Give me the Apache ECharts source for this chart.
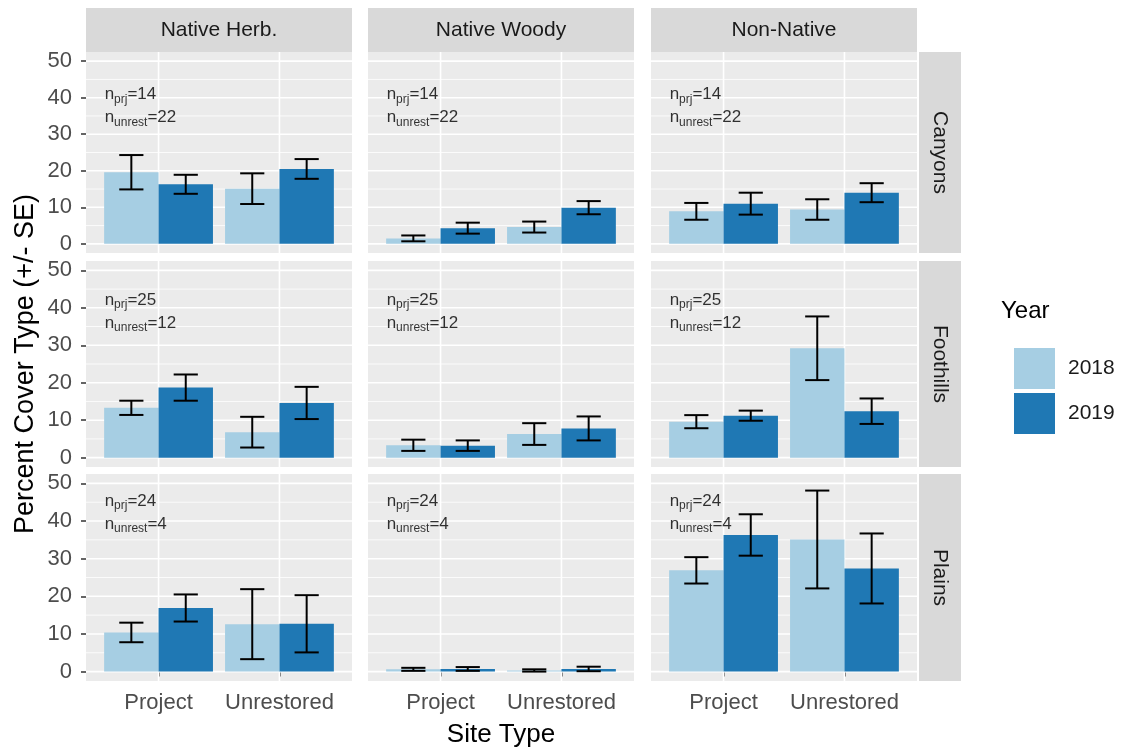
<!DOCTYPE html>
<html><head><meta charset="utf-8">
<script src="https://cdn.jsdelivr.net/npm/echarts@6/dist/echarts.min.js"></script>
<style>html,body{margin:0;padding:0;background:#fff}#c{width:1126px;height:753px}</style>
</head><body><div id="c"></div>
<script>
// ---------- data ----------
const coverTypes = ['Native Herb.', 'Native Woody', 'Non-Native'];
const regions = ['Canyons', 'Foothills', 'Plains'];
const siteTypes = ['Project', 'Unrestored'];
const years = ['2018', '2019'];
const yTicks = [0, 10, 20, 30, 40, 50];
const yMinor = [5, 15, 25, 35, 45];
const nProject = [14, 25, 24];
const nUnrest = [22, 12, 4];

// [cover type][site type]
const canyonsMean2018 = [[19.6, 15.1], [1.5, 4.6], [8.9, 9.4]];
const canyonsSE2018   = [[4.7, 4.2], [0.8, 1.5], [2.3, 2.8]];
const canyonsMean2019 = [[16.3, 20.5], [4.3, 9.9], [11.0, 14.0]];
const canyonsSE2019   = [[2.6, 2.7], [1.5, 1.8], [3.0, 2.6]];

const foothillsMean2018 = [[13.3, 6.8], [3.3, 6.3], [9.6, 29.2]];
const foothillsSE2018   = [[1.9, 4.1], [1.5, 2.9], [1.75, 8.5]];
const foothillsMean2019 = [[18.7, 14.6], [3.2, 7.8], [11.2, 12.4]];
const foothillsSE2019   = [[3.5, 4.3], [1.4, 3.2], [1.35, 3.4]];

const plainsMean2018 = [[10.4, 12.6], [0.6, 0.3], [26.9, 35.1]];
const plainsSE2018   = [[2.6, 9.3], [0.4, 0.3], [3.5, 13.0]];
const plainsMean2019 = [[16.9, 12.7], [0.7, 0.7], [36.3, 27.4]];
const plainsSE2019   = [[3.6, 7.6], [0.5, 0.6], [5.5, 9.3]];

// ---------- layout / style ----------
const meanTable = [[canyonsMean2018, foothillsMean2018, plainsMean2018], [canyonsMean2019, foothillsMean2019, plainsMean2019]];
const seTable = [[canyonsSE2018, foothillsSE2018, plainsSE2018], [canyonsSE2019, foothillsSE2019, plainsSE2019]];
const yearColors = ['#A6CEE3', '#1F78B4'];
const FONT = 'Liberation Sans, Arial, Helvetica, sans-serif';
const colLeft = [86, 368, 651];
const colWidth = 266;
const rowTop = [52, 261, 474];
const rowHeight = [201, 206, 207];
const annotY = [37.8, 39.0, 42.3];
const xMin = 0.4, xMax = 2.6, dodge = 0.225, barW = 0.45, capW = 0.2;

const grids = [], xAxes = [], yAxes = [], series = [], graphics = [];

regions.forEach((reg, r) => {
  coverTypes.forEach((ct, c) => {
    const i = r * 3 + c;
    grids.push({left: colLeft[c], top: rowTop[r], width: colWidth, height: rowHeight[r],
      show: true, backgroundColor: '#EBEBEB', borderWidth: 0, containLabel: false});
    const bottomRow = r === 2, firstCol = c === 0;
    xAxes.push({
      type: 'value', gridIndex: i, min: xMin, max: xMax,
      axisLine: {show: false},
      axisTick: {show: bottomRow, customValues: [1, 2], length: 5, lineStyle: {color: '#333', width: 1.5}},
      axisLabel: {show: bottomRow, customValues: [1, 2], formatter: v => siteTypes[Math.round(v) - 1],
        fontSize: 22, color: '#4D4D4D', margin: 11, fontFamily: FONT},
      splitLine: {show: false},
      name: (bottomRow && c === 1) ? 'Site Type' : '',
      nameLocation: 'middle', nameGap: 41,
      nameTextStyle: {fontSize: 26, color: '#000', fontFamily: FONT}
    });
    yAxes.push({
      type: 'value', gridIndex: i, min: -2.5, max: 52.5,
      axisLine: {show: false},
      axisTick: {show: firstCol, customValues: yTicks, length: 5, lineStyle: {color: '#333', width: 1.5}},
      axisLabel: {show: firstCol, customValues: yTicks, fontSize: 22, color: '#4D4D4D', margin: 14, fontFamily: FONT},
      splitLine: {show: false},
      name: (firstCol && r === 1) ? 'Percent Cover Type (+/- SE)' : '',
      nameLocation: 'middle', nameGap: 47,
      nameTextStyle: {fontSize: 27, color: '#000', fontFamily: FONT}
    });
    // grid lines
    const gridData = yTicks.map(v => [0, v]).concat(yMinor.map(v => [1, v])).concat(siteTypes.map((s, j) => [2, j + 1]));
    series.push({
      type: 'custom', xAxisIndex: i, yAxisIndex: i, z: 1, silent: true,
      encode: {x: 1, y: 1},
      data: gridData,
      renderItem: (params, api) => {
        const kind = api.value(0), v = api.value(1);
        let a, b;
        if (kind === 2) { a = api.coord([v, -2.5]); b = api.coord([v, 52.5]); }
        else { a = api.coord([xMin, v]); b = api.coord([xMax, v]); }
        return {type: 'line', shape: {x1: a[0], y1: a[1], x2: b[0], y2: b[1]},
          style: {stroke: '#FFFFFF', lineWidth: kind === 1 ? 0.8 : 1.6}};
      }
    });
    // bars
    const bwPx = colWidth * barW / (xMax - xMin);
    years.forEach((yr, k) => {
      series.push({
        type: 'bar', name: yr, xAxisIndex: i, yAxisIndex: i, barWidth: bwPx, barGap: '0%', z: 2, silent: true,
        itemStyle: {color: yearColors[k]},
        data: siteTypes.map((s, j) => [j + 1, meanTable[k][r][c][j]])
      });
    });
    // error bars
    const ebData = [];
    years.forEach((yr, k) => siteTypes.forEach((s, j) => {
      const m = meanTable[k][r][c][j], se = seTable[k][r][c][j];
      ebData.push([j + 1, m - se, m + se, k]);
    }));
    series.push({
      type: 'custom', xAxisIndex: i, yAxisIndex: i, z: 4, silent: true,
      data: ebData,
      renderItem: (params, api) => {
        const x = api.value(0) + (api.value(3) === 0 ? -dodge : dodge);
        const lo = api.coord([x, api.value(1)]), hi = api.coord([x, api.value(2)]);
        const half = api.size([capW, 0])[0] / 2;
        const st = {stroke: '#000', lineWidth: 2};
        return {type: 'group', children: [
          {type: 'line', shape: {x1: lo[0], y1: lo[1], x2: hi[0], y2: hi[1]}, style: st},
          {type: 'line', shape: {x1: lo[0] - half, y1: lo[1], x2: lo[0] + half, y2: lo[1]}, style: st},
          {type: 'line', shape: {x1: hi[0] - half, y1: hi[1], x2: hi[0] + half, y2: hi[1]}, style: st}
        ]};
      }
    });
    // n annotation
    series.push({
      type: 'scatter', xAxisIndex: i, yAxisIndex: i, z: 5, silent: true,
      symbolSize: 1, itemStyle: {color: 'rgba(0,0,0,0)'},
      data: [[0.55, annotY[r]]],
      label: {
        show: true, position: 'right', distance: 0,
        formatter: '{n|n}{s|prj}{n|=' + nProject[r] + '}\n{n|n}{s|unrest}{n|=' + nUnrest[r] + '}',
        rich: {
          n: {fontSize: 17, color: '#000', lineHeight: 23, fontFamily: FONT},
          s: {fontSize: 12, color: '#000', lineHeight: 13, padding: [10, 0, 0, 0], fontFamily: FONT}
        }
      }
    });
  });
});

// facet strips
coverTypes.forEach((ct, c) => {
  graphics.push({type: 'rect', shape: {x: colLeft[c], y: 8, width: colWidth, height: 44}, style: {fill: '#D9D9D9'}, silent: true});
  graphics.push({type: 'text', x: colLeft[c] + colWidth / 2, y: 30,
    style: {text: ct, fill: '#1A1A1A', fontSize: 21, fontFamily: FONT, textAlign: 'center', textVerticalAlign: 'middle'}, silent: true});
});
regions.forEach((reg, r) => {
  graphics.push({type: 'rect', shape: {x: 919, y: rowTop[r], width: 42, height: rowHeight[r]}, style: {fill: '#D9D9D9'}, silent: true});
  graphics.push({type: 'text', x: 940, y: rowTop[r] + rowHeight[r] / 2, rotation: -Math.PI / 2,
    style: {text: reg, fill: '#1A1A1A', fontSize: 21, fontFamily: FONT, textAlign: 'center', textVerticalAlign: 'middle'}, silent: true});
});
graphics.push({type: 'text', x: 1001, y: 311,
  style: {text: 'Year', fill: '#000', fontSize: 24, fontFamily: FONT, textAlign: 'left', textVerticalAlign: 'middle'}, silent: true});

const chart = echarts.init(document.getElementById('c'));
chart.setOption({
  animation: false,
  backgroundColor: '#FFFFFF',
  textStyle: {fontFamily: FONT},
  grid: grids, xAxis: xAxes, yAxis: yAxes, series: series,
  graphic: graphics,
  legend: {
    data: years, orient: 'vertical', left: 1009, top: 343,
    itemWidth: 41, itemHeight: 41, itemGap: 4, icon: 'rect', selectedMode: false,
    textStyle: {fontSize: 21, color: '#1A1A1A', fontFamily: FONT, padding: [0, 0, 0, 8]}
  }
});
</script></body></html>
